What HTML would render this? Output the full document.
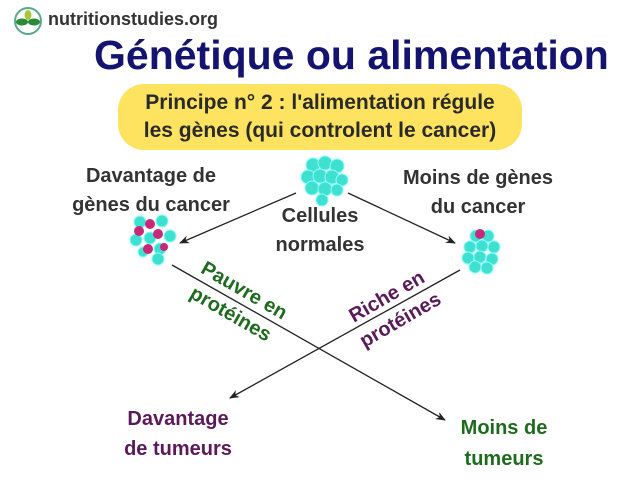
<html><head><style>
body{margin:0;width:640px;height:483px;background:#fff;position:relative;overflow:hidden;font-family:"Liberation Sans","DejaVu Sans",sans-serif}
.t{position:absolute;font-weight:bold;white-space:nowrap}
</style></head><body>
<svg width="640" height="483" style="position:absolute;left:0;top:0">
<defs><marker id="a" markerWidth="10" markerHeight="8" refX="9" refY="4" orient="auto" markerUnits="userSpaceOnUse"><path d="M0,0 L10,4 L0,8 L3,4 Z" fill="#222"/></marker></defs>
<circle cx="28" cy="21" r="13" fill="#fff" stroke="#5aa88a" stroke-width="2"/>
<ellipse cx="22" cy="22" rx="6" ry="3.5" fill="#2a8a3a"/><ellipse cx="34" cy="22" rx="6" ry="3.5" fill="#2a8a3a"/><ellipse cx="28" cy="15" rx="3.5" ry="5" fill="#a8c83a"/>
<rect x="118" y="84" width="404" height="66" rx="26" fill="#fde35f"/>
<line x1="296" y1="193" x2="180" y2="243" stroke="#222" stroke-width="1.3" marker-end="url(#a)"/>
<line x1="348" y1="193" x2="455" y2="243" stroke="#222" stroke-width="1.3" marker-end="url(#a)"/>
<line x1="172" y1="265" x2="445" y2="420" stroke="#222" stroke-width="1.3" marker-end="url(#a)"/>
<line x1="460" y1="270" x2="230" y2="398" stroke="#222" stroke-width="1.3" marker-end="url(#a)"/>
<g fill="#40e0d0" stroke="#8ff" stroke-width="1">
<circle cx="313" cy="165" r="7"/><circle cx="325" cy="163" r="7"/><circle cx="337" cy="166" r="7"/><circle cx="308" cy="177" r="7"/><circle cx="320" cy="176" r="7"/><circle cx="332" cy="177" r="7"/><circle cx="342" cy="180" r="6"/><circle cx="312" cy="188" r="7"/><circle cx="325" cy="189" r="7"/><circle cx="337" cy="190" r="6"/><circle cx="322" cy="200" r="6"/>
<circle cx="140" cy="222" r="6"/><circle cx="162" cy="221" r="6"/><circle cx="136" cy="240" r="6"/><circle cx="150" cy="238" r="6"/><circle cx="170" cy="236" r="6"/><circle cx="160" cy="249" r="6"/><circle cx="158" cy="259" r="6"/><circle cx="143" cy="252" r="5"/>
<circle cx="476" cy="236" r="6"/><circle cx="488" cy="236" r="6"/><circle cx="470" cy="247" r="6"/><circle cx="482" cy="246" r="6"/><circle cx="494" cy="247" r="6"/><circle cx="468" cy="258" r="6"/><circle cx="480" cy="257" r="6"/><circle cx="492" cy="259" r="6"/><circle cx="475" cy="267" r="6"/><circle cx="487" cy="268" r="6"/>
</g>
<g fill="#c8287a"><circle cx="150" cy="224" r="5"/><circle cx="139" cy="231" r="5"/><circle cx="158" cy="234" r="5"/><circle cx="148" cy="249" r="5"/><circle cx="164" cy="247" r="4"/><circle cx="480" cy="234" r="5"/></g>
</svg>
<div class="t" style="left:48px;top:9px;font-size:18px;color:#333">nutritionstudies.org</div>
<div class="t" style="left:94px;top:32px;font-size:41px;color:#141470">Génétique ou alimentation</div>
<div class="t" style="left:118px;top:89px;width:404px;text-align:center;font-size:21px;line-height:28px;color:#2a2a2a">Principe n° 2 : l'alimentation régule<br>les gènes (qui controlent le cancer)</div>
<div class="t" style="left:56px;top:162px;width:190px;text-align:center;font-size:20px;line-height:29px;color:#333">Davantage de<br>gènes du cancer</div>
<div class="t" style="left:398px;top:164px;width:160px;text-align:center;font-size:20px;line-height:29px;color:#333">Moins de gènes<br>du cancer</div>
<div class="t" style="left:260px;top:202px;width:120px;text-align:center;font-size:20px;line-height:29px;color:#333">Cellules<br>normales</div>
<div class="t" style="left:172px;top:276px;width:130px;text-align:center;font-size:20px;line-height:27px;color:#1e6b1e;transform:rotate(30deg)">Pauvre en<br>protéines</div>
<div class="t" style="left:334px;top:282px;width:120px;text-align:center;font-size:20px;line-height:27px;color:#5a1a5a;transform:rotate(-30deg)">Riche en<br>protéines</div>
<div class="t" style="left:100px;top:404px;width:156px;text-align:center;font-size:20px;line-height:30px;color:#5a1a5a">Davantage<br>de tumeurs</div>
<div class="t" style="left:444px;top:413px;width:120px;text-align:center;font-size:20px;line-height:31px;color:#1e6b1e">Moins de<br>tumeurs</div>
</body></html>
